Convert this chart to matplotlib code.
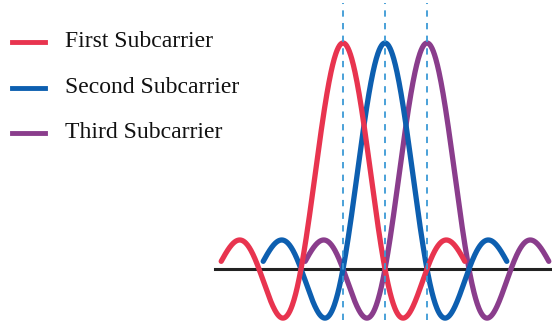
import numpy as np
import matplotlib
matplotlib.use('Agg')
import matplotlib.pyplot as plt
from matplotlib.lines import Line2D

# subcarrier names and centre frequencies (in units of subcarrier spacing)
names = ['First Subcarrier', 'Second Subcarrier', 'Third Subcarrier']
centers = [0.0, 1.0, 2.0]
peaks = [1.0, 1.0, 1.0]
half_span = 2.9  # each pulse drawn out to about its third null

colors = ['#e8344f', '#0d5fb0', '#8a3d8c']
dash_color = '#3b9ad6'

fig = plt.figure(figsize=(5.52, 3.24), dpi=100)
ax = fig.add_axes([0, 0, 1, 1])
ax.set_xlim(-343 / 42.0, (552 - 343) / 42.0)
ax.set_ylim(-55 / 226.0, (324 - 55) / 226.0)
ax.axis('off')

# baseline
ax.plot([centers[0] - 3.05, ax.get_xlim()[1]], [0, 0], color='#222222', lw=2.2, zorder=1)

# sinc pulses, purple at the back, red on top
for i in [2, 1, 0]:
    x = np.linspace(centers[i] - half_span, centers[i] + half_span, 600)
    y = peaks[i] * np.sinc(x - centers[i])
    ax.plot(x, y, color=colors[i], lw=3.8, solid_capstyle='round', zorder=2 + (2 - i))

# dashed markers at each peak
for c in centers:
    ax.axvline(c, ymin=4 / 324.0, ymax=321 / 324.0, color=dash_color, lw=1.3,
               dashes=(3.5, 3.5), zorder=6)

# legend drawn by hand
leg_y = [42, 88, 133]
base_y = [47, 93, 138]
for i, name in enumerate(names):
    yy = 1 - leg_y[i] / 324.0
    fig.add_artist(Line2D([12 / 552.0, 45 / 552.0], [yy, yy], color=colors[i], lw=3.5,
                          transform=fig.transFigure))
    fig.text(65 / 552.0, 1 - base_y[i] / 324.0, name, fontsize=17,
             family='Liberation Serif', color='#111111', va='baseline', ha='left')

fig.savefig('out.png', dpi=100)
